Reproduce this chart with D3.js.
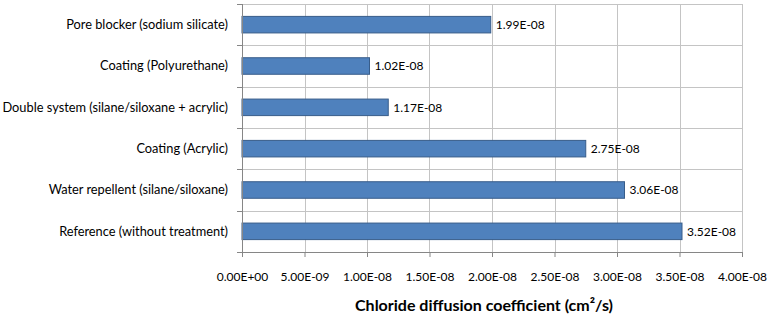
<!DOCTYPE html>
<html>
<head>
<meta charset="utf-8">
<script src="https://cdn.jsdelivr.net/npm/d3@7"></script>
<style>
  body { margin: 0; background: #fff; }
  text { font-family: Lato, "Open Sans", sans-serif; fill: #000; }
</style>
</head>
<body>
<div id="chart"></div>
<script>
// treatments, top to bottom
const categories = [
  "Pore blocker (sodium silicate)",
  "Coating (Polyurethane)",
  "Double system (silane/siloxane + acrylic)",
  "Coating (Acrylic)",
  "Water repellent (silane/siloxane)",
  "Reference (without treatment)"
];
const values = [1.99e-8, 1.02e-8, 1.17e-8, 2.75e-8, 3.06e-8, 3.52e-8];
const valueLabels = ["1.99E-08", "1.02E-08", "1.17E-08", "2.75E-08", "3.06E-08", "3.52E-08"];
const xTicks = [0, 5e-9, 1e-8, 1.5e-8, 2e-8, 2.5e-8, 3e-8, 3.5e-8, 4e-8];
const xTickLabels = ["0.00E+00", "5.00E-09", "1.00E-08", "1.50E-08", "2.00E-08", "2.50E-08", "3.00E-08", "3.50E-08", "4.00E-08"];
const xTitle = "Chloride diffusion coefficient (cm²/s)";

const W = 771, H = 321;
const margin = {top: 4, right: 29, bottom: 69, left: 242};
const width = W - margin.left - margin.right,
      height = H - margin.top - margin.bottom;

const svg = d3.select("#chart").append("svg")
    .attr("width", W)
    .attr("height", H);

const g = svg.append("g")
    .attr("transform", `translate(${margin.left},${margin.top})`);

const x = d3.scaleLinear().domain([0, 4e-8]).range([0, width]);
const y = d3.scaleBand().domain(categories).range([0, height]).paddingInner(0.6).paddingOuter(0.3);

// vertical gridlines
g.append("g")
    .selectAll("line")
    .data(xTicks.slice(1))
    .join("line")
    .attr("x1", d => Math.round(x(d)) + 0.5).attr("x2", d => Math.round(x(d)) + 0.5)
    .attr("y1", 0).attr("y2", height)
    .attr("stroke", "#c4c4c4")
    .attr("stroke-width", 1);

// horizontal gridlines at band boundaries
const step = height / categories.length;
const bounds = d3.range(categories.length + 1).map(i => i * step);
g.append("g")
    .selectAll("line")
    .data(bounds.slice(0, -1))
    .join("line")
    .attr("x1", 0).attr("x2", width)
    .attr("y1", d => Math.round(d) + 0.5).attr("y2", d => Math.round(d) + 0.5)
    .attr("stroke", "#c4c4c4");

// bars
g.selectAll("rect.bar")
    .data(categories)
    .join("rect")
    .attr("class", "bar")
    .attr("x", 0)
    .attr("y", d => y(d))
    .attr("width", (d, i) => x(values[i]))
    .attr("height", y.bandwidth())
    .attr("fill", "#4f81bd")
    .attr("stroke", "#385d8a")
    .attr("stroke-width", 1);

// value labels
g.selectAll("text.val")
    .data(categories)
    .join("text")
    .attr("class", "val")
    .attr("x", (d, i) => x(values[i]) + 5)
    .attr("y", d => y(d) + y.bandwidth() / 2)
    .attr("dy", "0.35em")
    .style("font-size", "12px")
    .text((d, i) => valueLabels[i]);

// x axis
const xAxis = d3.axisBottom(x)
    .tickValues(xTicks)
    .tickFormat((d, i) => xTickLabels[i])
    .tickSize(5)
    .tickSizeOuter(0)
    .tickPadding(15);
const xg = g.append("g")
    .attr("transform", `translate(0,${height})`)
    .call(xAxis);
xg.select(".domain").attr("stroke", "#868686");
xg.selectAll(".tick line").attr("stroke", "#868686");
xg.selectAll(".tick text").style("font-size", "12px").style("font-family", "Lato, sans-serif").attr("fill", "#000");

// y axis (line with outward ticks at band boundaries)
g.append("line")
    .attr("x1", 0.5).attr("x2", 0.5)
    .attr("y1", 0).attr("y2", height + 5)
    .attr("stroke", "#868686");
g.append("g")
    .selectAll("line")
    .data(bounds)
    .join("line")
    .attr("x1", -5).attr("x2", 0)
    .attr("y1", d => Math.round(d) + 0.5).attr("y2", d => Math.round(d) + 0.5)
    .attr("stroke", "#868686");

// category labels
g.selectAll("text.cat")
    .data(categories)
    .join("text")
    .attr("class", "cat")
    .attr("x", -14)
    .attr("y", d => y(d) + y.bandwidth() / 2)
    .attr("dy", "0.35em")
    .attr("text-anchor", "end")
    .style("font-size", "12.8px")
    .text(d => d);

// axis title
svg.append("text")
    .attr("x", 484)
    .attr("y", 311)
    .attr("text-anchor", "middle")
    .style("font-size", "16px")
    .style("font-weight", "bold")
    .text(xTitle);
</script>
</body>
</html>
